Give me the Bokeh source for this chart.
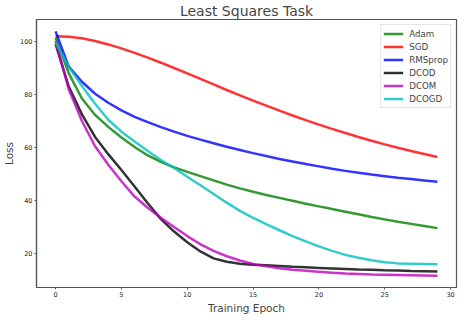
from bokeh.plotting import figure
from bokeh.models import Range1d, Legend, LegendItem, FixedTicker
from bokeh.embed import file_html
from bokeh.resources import INLINE

epochs = list(range(30))

adam = [101.5, 88.0, 78.5, 72.3, 67.8, 63.8, 60.2, 57.0, 54.6, 52.5, 50.8, 49.2, 47.6, 46.0, 44.6,
        43.3, 42.1, 41.0, 39.9, 38.8, 37.8, 36.8, 35.8, 34.8, 33.8, 32.9, 32.0, 31.2, 30.4, 29.6]
sgd = [102.0, 101.8, 101.2, 100.2, 98.9, 97.4, 95.7, 93.9, 92.0, 90.0, 88.0, 85.9, 83.8, 81.7, 79.7,
       77.7, 75.8, 73.9, 72.1, 70.35, 68.65, 67.05, 65.5, 64.0, 62.55, 61.2, 59.9, 58.7, 57.55, 56.45]
rmsprop = [103.8, 90.5, 84.8, 80.3, 76.9, 74.0, 71.6, 69.6, 67.7, 66.0, 64.4, 63.0, 61.6, 60.3, 59.1,
           57.9, 56.8, 55.7, 54.7, 53.8, 52.9, 52.0, 51.2, 50.5, 49.8, 49.2, 48.6, 48.1, 47.6, 47.1]
dcod = [99.0, 83.0, 72.5, 64.0, 57.5, 51.5, 45.3, 39.0, 33.0, 28.3, 24.3, 20.8, 18.2, 16.9, 16.2,
        15.8, 15.6, 15.3, 15.0, 14.8, 14.6, 14.4, 14.2, 14.0, 13.9, 13.7, 13.6, 13.4, 13.3, 13.2]
dcom = [100.2, 82.0, 70.0, 60.5, 53.5, 47.3, 41.5, 37.3, 33.5, 30.0, 26.6, 23.5, 21.0, 19.0, 17.4,
        16.1, 15.2, 14.5, 13.9, 13.5, 13.1, 12.8, 12.5, 12.3, 12.1, 12.0, 11.9, 11.8, 11.7, 11.6]
dcogd = [99.6, 90.5, 83.2, 76.5, 70.5, 66.0, 62.3, 58.7, 55.3, 52.3, 49.0, 45.8, 42.5, 39.2, 36.1,
         33.5, 31.1, 28.8, 26.6, 24.6, 22.7, 21.0, 19.5, 18.4, 17.5, 16.7, 16.3, 16.2, 16.1, 16.0]

series_names = ["Adam", "SGD", "RMSprop", "DCOD", "DCOM", "DCOGD"]
series_values = [adam, sgd, rmsprop, dcod, dcom, dcogd]
series_colors = ["#008000", "#ff0000", "#0000ff", "#000000", "#bf00bf", "#00bfbf"]
x_ticks = [0, 5, 10, 15, 20, 25, 30]
y_ticks = [20, 40, 60, 80, 100]

p = figure(width=458, height=316, output_backend="svg", toolbar_location=None,
           x_range=Range1d(-1.45, 30.45), y_range=Range1d(7.2, 108.3),
           title="Least Squares Task")
p.min_border_left = 0
p.min_border_right = 2
p.min_border_top = 0
p.min_border_bottom = 0

p.title.text_font = "DejaVu Sans"
p.title.text_font_size = "14px"
p.title.text_font_style = "normal"
p.title.align = "center"
p.title.standoff = 1
p.title.offset = 0

p.xgrid.visible = False
p.ygrid.visible = False
p.outline_line_color = "#555555"
p.outline_line_width = 1.2

for ax, ticks in ((p.xaxis, x_ticks), (p.yaxis, y_ticks)):
    ax.ticker = FixedTicker(ticks=ticks)
    ax.minor_tick_line_color = None
    ax.major_tick_out = 2
    ax.major_tick_in = 0
    ax.major_tick_line_color = "#555555"
    ax.axis_line_color = "#555555"
    ax.axis_line_width = 1.2
    ax.major_label_text_font = "DejaVu Sans"
    ax.major_label_text_font_size = "6.5px"
    ax.major_label_text_color = "#222222"
    ax.major_label_standoff = 2
    ax.axis_label_text_font = "DejaVu Sans"
    ax.axis_label_text_font_size = "10.5px"
    ax.axis_label_text_font_style = "normal"
    ax.axis_label_standoff = 2

p.xaxis.axis_label = "Training Epoch"
p.yaxis.axis_label = "Loss"

items = []
for name, vals, col in zip(series_names, series_values, series_colors):
    r = p.line(epochs, vals, line_color=col, line_width=2.5, line_alpha=0.8)
    items.append(LegendItem(label=name, renderers=[r]))

legend = Legend(items=items, location="top_right")
legend.margin = 5
legend.padding = 2
legend.spacing = 0
legend.glyph_width = 20
legend.glyph_height = 13
legend.label_height = 13
legend.label_width = 10
legend.label_standoff = 6
legend.label_text_font = "DejaVu Sans"
legend.label_text_font_size = "8.7px"
legend.border_line_color = "#cccccc"
legend.background_fill_alpha = 0.8
p.add_layout(legend)

open("out.html", "w").write(file_html(p, INLINE))
